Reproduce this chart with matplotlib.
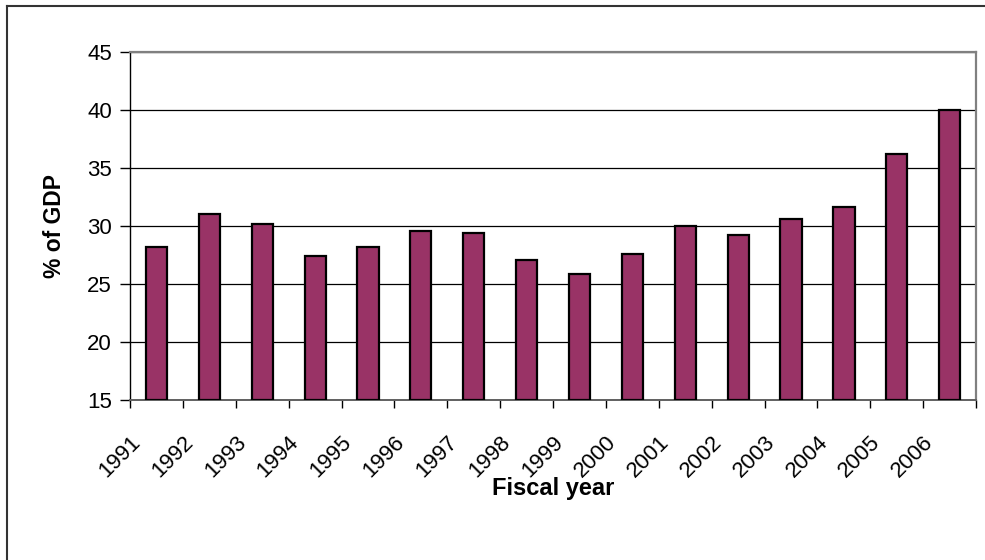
import numpy as np
import matplotlib.pyplot as plt
from matplotlib.lines import Line2D
import matplotlib.transforms as mtransforms

plt.rcParams['font.family'] = ['Liberation Sans', 'DejaVu Sans']

years = ['1991', '1992', '1993', '1994', '1995', '1996', '1997', '1998',
         '1999', '2000', '2001', '2002', '2003', '2004', '2005', '2006']
pct_gdp = [28.2, 31.0, 30.2, 27.4, 28.2, 29.6, 29.4, 27.1,
           25.9, 27.6, 30.0, 29.2, 30.6, 31.6, 36.2, 40.0]

fig = plt.figure(figsize=(9.85, 5.6), dpi=100)
ax = fig.add_axes([0.132, 0.2857, 0.859, 0.6215])

x = np.arange(len(years))
ax.bar(x, np.array(pct_gdp) - 15, bottom=15, width=0.4, color='#993366',
       edgecolor='black', linewidth=1.6, zorder=3)

ax.set_xlim(-0.5, len(years) - 0.5)
ax.set_ylim(15, 45)
ax.set_yticks(np.arange(15, 46, 5))
ax.yaxis.grid(True, color='black', linewidth=0.9, zorder=0)

# category boundary ticks, labels at centres
ax.set_xticks(np.arange(-0.5, len(years)), minor=True)
ax.set_xticks(x)
ax.set_xticklabels(years, rotation=45, ha='right', va='top', fontsize=16)
ax.tick_params(axis='x', which='major', length=0, pad=23)
ax.tick_params(axis='x', which='minor', length=6, width=1, direction='out')
offset = mtransforms.ScaledTranslation(-12 / 100, 0, fig.dpi_scale_trans)
for lab in ax.get_xticklabels():
    lab.set_transform(lab.get_transform() + offset)

ax.tick_params(axis='y', length=7, width=1, labelsize=16, pad=6)

for side in ['top', 'right']:
    ax.spines[side].set_color('#808080')
    ax.spines[side].set_linewidth(1.6)
ax.spines['bottom'].set_color('#606060')
ax.spines['bottom'].set_linewidth(1.4)
ax.spines['left'].set_color('black')
ax.spines['left'].set_linewidth(1.0)

ax.set_ylabel('% of GDP', fontsize=16.5, fontweight='bold')
ax.yaxis.label.set_va('center')
ax.yaxis.set_label_coords(-0.089, 0.5)
ax.set_xlabel('Fiscal year', fontsize=17, fontweight='bold')
ax.xaxis.label.set_va('center')
ax.xaxis.set_label_coords(0.5, -0.253)

# outer chart border (left and top only visible)
fig.add_artist(Line2D([7 / 985, 7 / 985], [0, 1 - 6 / 560], color='#333333', linewidth=1.5))
fig.add_artist(Line2D([7 / 985, 1], [1 - 6 / 560, 1 - 6 / 560], color='#333333', linewidth=1.5))

fig.savefig('out.png', dpi=100)
